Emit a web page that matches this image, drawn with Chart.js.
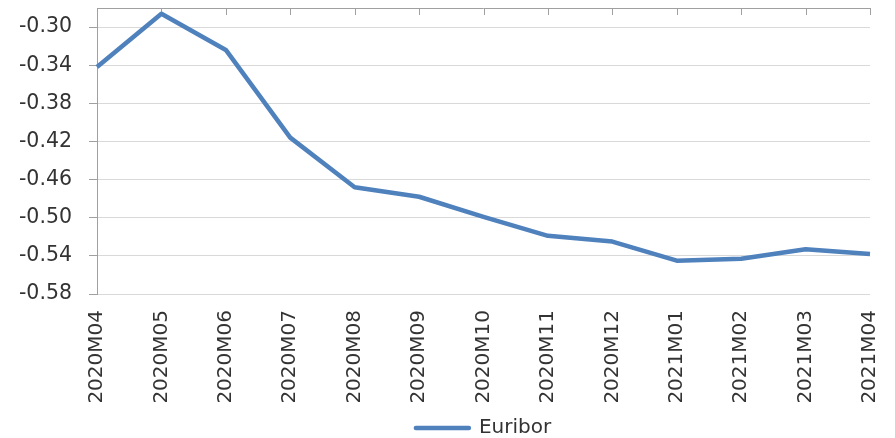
<!DOCTYPE html>
<html>
<head>
<meta charset="utf-8">
<script src="https://cdn.jsdelivr.net/npm/chart.js@4.4.1/dist/chart.umd.min.js"></script>
<style>
  html, body { margin: 0; padding: 0; background: #ffffff; }
  #wrap { width: 895px; height: 438px; position: relative; }
</style>
</head>
<body>
<div id="wrap"><canvas id="c"></canvas></div>
<script>
// Monthly Euribor, April 2020 – April 2021
const months = ['2020M04', '2020M05', '2020M06', '2020M07', '2020M08', '2020M09', '2020M10',
                '2020M11', '2020M12', '2021M01', '2021M02', '2021M03', '2021M04'];
const euribor = [-0.342, -0.286, -0.324, -0.416, -0.468, -0.478, -0.499,
                 -0.519, -0.525, -0.545, -0.543, -0.533, -0.538];
const yTickValues = [-0.58, -0.54, -0.50, -0.46, -0.42, -0.38, -0.34, -0.30];

const AXIS_GREY = '#A0A0A0';
const GRID_GREY = '#D9D9D9';
const TEXT = '#333333';
const LINE_BLUE = '#4F81BD';
const FONT = 'DejaVu Sans';

// Horizontal axis line along the top edge with category tick marks pointing down
const topAxis = {
  id: 'topAxis',
  beforeDatasetsDraw(chart) {
    const { ctx, chartArea } = chart;
    const x = chart.scales.x;
    ctx.save();
    ctx.strokeStyle = AXIS_GREY;
    ctx.lineWidth = 1;
    ctx.beginPath();
    ctx.moveTo(chartArea.left, chartArea.top + 0.5);
    ctx.lineTo(chartArea.right, chartArea.top + 0.5);
    for (let i = 0; i < months.length; i++) {
      const px = Math.round(x.getPixelForValue(i)) + 0.5;
      ctx.moveTo(px, chartArea.top);
      ctx.lineTo(px, chartArea.top + 7);
    }
    ctx.stroke();
    ctx.restore();
  }
};

new Chart(document.getElementById('c'), {
  type: 'line',
  data: {
    labels: months,
    datasets: [{
      label: 'Euribor',
      data: euribor,
      borderColor: LINE_BLUE,
      backgroundColor: LINE_BLUE,
      borderWidth: 4.5,
      pointRadius: 0,
      tension: 0,
      borderJoinStyle: 'round',
      borderCapStyle: 'butt'
    }]
  },
  options: {
    responsive: true,
    maintainAspectRatio: false,
    animation: false,
    layout: { padding: { left: 0, right: 25, top: 8, bottom: -10 } },
    plugins: {
      tooltip: { enabled: false },
      legend: {
        position: 'bottom',
        fullSize: false,
        labels: {
          font: { family: FONT, size: 20 },
          color: TEXT,
          boxWidth: 53,
          boxHeight: 0,
          padding: 10
        }
      }
    },
    scales: {
      x: {
        offset: false,
        grid: { display: false, drawTicks: false },
        border: { display: false },
        ticks: {
          autoSkip: false,
          maxRotation: 90,
          minRotation: 90,
          padding: 16,
          color: TEXT,
          font: { family: FONT, size: 20 }
        },
        afterFit(scale) {
          scale.height = 114;
          scale.paddingLeft = 0;
          scale.paddingRight = 0;
        }
      },
      y: {
        min: -0.58,
        max: -0.28,
        grid: { color: GRID_GREY, lineWidth: 1, tickColor: AXIS_GREY, tickLength: 8 },
        border: { display: true, color: AXIS_GREY, width: 1 },
        ticks: {
          padding: 17,
          color: TEXT,
          font: { family: FONT, size: 20.5 },
          callback: (v) => Number(v).toFixed(2)
        },
        afterBuildTicks(scale) {
          scale.ticks = yTickValues.map(v => ({ value: v }));
        },
        afterFit(scale) {
          scale.width = 97;
          scale.paddingTop = 0;
          scale.paddingBottom = 0;
        }
      }
    }
  },
  plugins: [topAxis]
});
</script>
</body>
</html>
